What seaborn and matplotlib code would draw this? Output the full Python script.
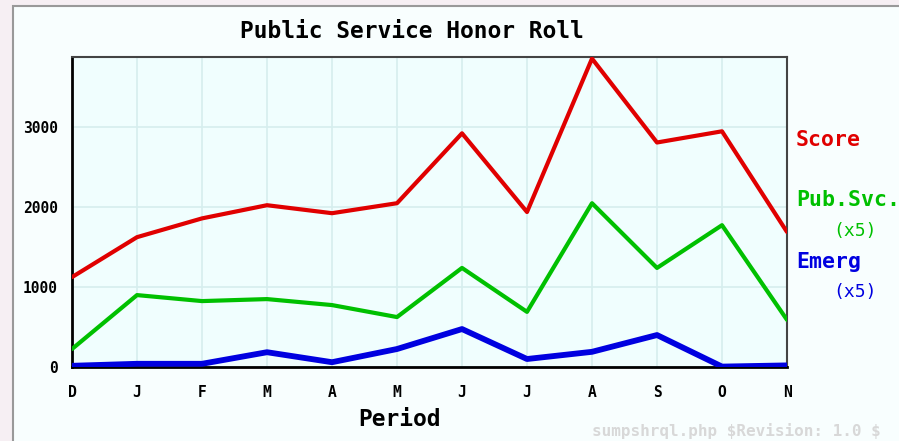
import numpy as np
import pandas as pd
import seaborn as sns
import matplotlib.pyplot as plt
from matplotlib.patches import Rectangle

# data (Pub.Svc. and Emerg already shown x5)
periods = ["D", "J", "F", "M", "A", "M", "J", "J", "A", "S", "O", "N"]
score = [1125, 1625, 1860, 2025, 1925, 2050, 2925, 1940, 3860, 2810, 2950, 1690]
pub_svc = [225, 900, 825, 850, 775, 625, 1240, 690, 2050, 1240, 1775, 590]
emerg = [15, 40, 40, 185, 60, 225, 475, 100, 190, 400, 5, 20]
y_ticks = [0, 1000, 2000, 3000]

sns.set_style("white")
plt.rcParams['font.family'] = ['DejaVu Sans Mono', 'DejaVu Sans']
plt.rcParams.update({"text.color": "black", "axes.labelcolor": "black",
                     "xtick.color": "black", "ytick.color": "black"})

df = pd.DataFrame({"idx": np.arange(len(periods)), "Score": score,
                   "Pub.Svc.": pub_svc, "Emerg": emerg})
long = df.melt(id_vars="idx", var_name="series", value_name="value")

colors = {"Score": "#e00000", "Pub.Svc.": "#00c000", "Emerg": "#0000e0"}

fig = plt.figure(figsize=(8.99, 4.41), dpi=100, facecolor="#f6eff3")
W, H = 899, 441
# inner panel
fig.add_artist(Rectangle((13 / W, -0.01), 1, 1 - 6 / H + 0.01, transform=fig.transFigure,
                         facecolor="#f8fefe", edgecolor="#999999", lw=1.5, zorder=-5))

ax = fig.add_axes([72 / W, (H - 367) / H, (787 - 72) / W, (367 - 57) / H])
ax.set_facecolor("#f0fefe")

for name, lw in [("Score", 3), ("Pub.Svc.", 3), ("Emerg", 4.2)]:
    sns.lineplot(data=long[long.series == name], x="idx", y="value", ax=ax,
                 color=colors[name], lw=lw, legend=False, zorder=3)

ax.set_xlim(0, len(periods) - 1)
ax.set_ylim(0, 3880)
ax.set_xticks(range(len(periods)))
ax.set_xticklabels(periods, fontsize=10.5, fontweight="bold")
ax.set_yticks(y_ticks)
ax.set_yticklabels([str(v) for v in y_ticks], fontsize=10.5, fontweight="bold")
ax.tick_params(axis="both", direction="out", length=6, width=1.5, color="black", pad=4)
ax.tick_params(axis="x", pad=7)
ax.grid(True, color="#d6eeee", lw=1.2)
ax.set_xlabel("")
ax.set_ylabel("")
for side in ["left", "bottom"]:
    ax.spines[side].set_color("black")
    ax.spines[side].set_linewidth(2)
for side in ["top", "right"]:
    ax.spines[side].set_color("#444444")
    ax.spines[side].set_linewidth(1.5)

fig.text(412 / W, 1 - 31 / H, "Public Service Honor Roll", fontsize=16.5,
         fontweight="bold", ha="center", va="center")
fig.text(400 / W, 1 - 420 / H, "Period", fontsize=16.5, fontweight="bold",
         ha="center", va="center")

# labels on the right
fig.text(796 / W, 1 - 140 / H, "Score", color=colors["Score"], fontsize=15.5,
         fontweight="bold", va="center")
fig.text(796 / W, 1 - 200 / H, "Pub.Svc.", color=colors["Pub.Svc."], fontsize=15.5,
         fontweight="bold", va="center")
fig.text(833 / W, 1 - 231 / H, "(x5)", color=colors["Pub.Svc."], fontsize=13, va="center")
fig.text(796 / W, 1 - 262 / H, "Emerg", color=colors["Emerg"], fontsize=15.5,
         fontweight="bold", va="center")
fig.text(833 / W, 1 - 292 / H, "(x5)", color=colors["Emerg"], fontsize=13, va="center")

fig.text(592 / W, 1 - 431 / H, r"sumpshrql.php \$Revision: 1.0 \$", color="#d8d8d8",
         fontsize=11.5, fontweight="bold", va="center")

fig.savefig("out.png", dpi=100, facecolor=fig.get_facecolor())
